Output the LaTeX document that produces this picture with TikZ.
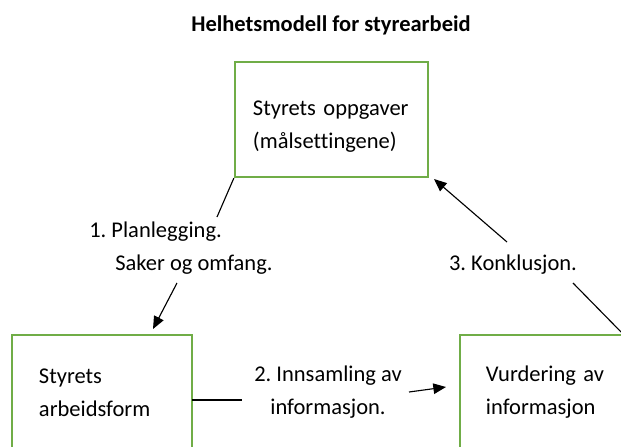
\documentclass[tikz,border=0pt]{standalone}
\usepackage{fontspec}
\setmainfont{Carlito}[Ligatures=NoCommon]
\usetikzlibrary{arrows.meta}

\definecolor{boxgreen}{RGB}{112,173,71}

\tikzset{
  modelbox/.style={draw=boxgreen, line width=1.6pt, align=left, inner xsep=0pt,
    minimum height=2.875cm, font=\fontsize{16}{23.5}\selectfont},
  steplabel/.style={inner sep=0pt, font=\fontsize{16}{23.5}\selectfont},
  arr/.style={line width=0.8pt, -{Triangle[length=9pt,width=7.5pt]}},
  plain/.style={line width=0.8pt}
}

\begin{document}
\frenchspacing
\begin{tikzpicture}[x=0.025cm,y=-0.025cm]
\useasboundingbox (0,0) rectangle (621,447);
\clip (0,0) rectangle (621,447);
%\draw[step=20,gray,very thin] (0,0) grid (621,447);
\node[font=\bfseries\fontsize{16}{20}\selectfont] (title) at (331,25) {Helhetsmodell for styrearbeid};
% the three boxes
\node[modelbox, minimum width=4.825cm, text width=3.925cm] (oppg) at (331.5,119.5)
  {\rule{0pt}{20pt}Styrets oppgaver\\(målsettingene)};
\node[modelbox, minimum width=4.5cm, text width=3.15cm] (arbeid) at (102,392.5)
  {Styrets\\arbeidsform};
\node[modelbox, minimum width=4.5cm, text width=3.2cm] (vurd) at (550,392.5)
  {Vurdering av\\informasjon};
% step labels
\node[steplabel, anchor=west, align=left] (plan) at (89,248.5)
  {1. Planlegging.\\\hspace*{0.65cm}Saker og omfang.};
\node[steplabel, align=center] (innsaml) at (328,392)
  {2. Innsamling av\\informasjon.};
\node[steplabel] (konkl) at (513,265) {3. Konklusjon.};
% connectors
\coordinate (plan-in) at (217,217);
\coordinate (plan-out) at (177,283);
\coordinate (plan-tip) at (153,329);
\draw[plain] (oppg.south west) -- (plan-in);
\draw[arr] (plan-out) -- (plan-tip);
\coordinate (inn-a) at (192,400);
\coordinate (inn-b) at (242,400);
\coordinate (inn-c) at (409,392);
\coordinate (inn-tip) at (446,387);
\draw[plain] (inn-a) -- (inn-b);
\draw[arr] (inn-c) -- (inn-tip);
\coordinate (konkl-a) at (624,335);
\coordinate (konkl-b) at (573,283);
\coordinate (konkl-c) at (507,242);
\coordinate (konkl-tip) at (434,179);
\draw[plain] (konkl-a) -- (konkl-b);
\draw[arr] (konkl-c) -- (konkl-tip);
\end{tikzpicture}
\end{document}
